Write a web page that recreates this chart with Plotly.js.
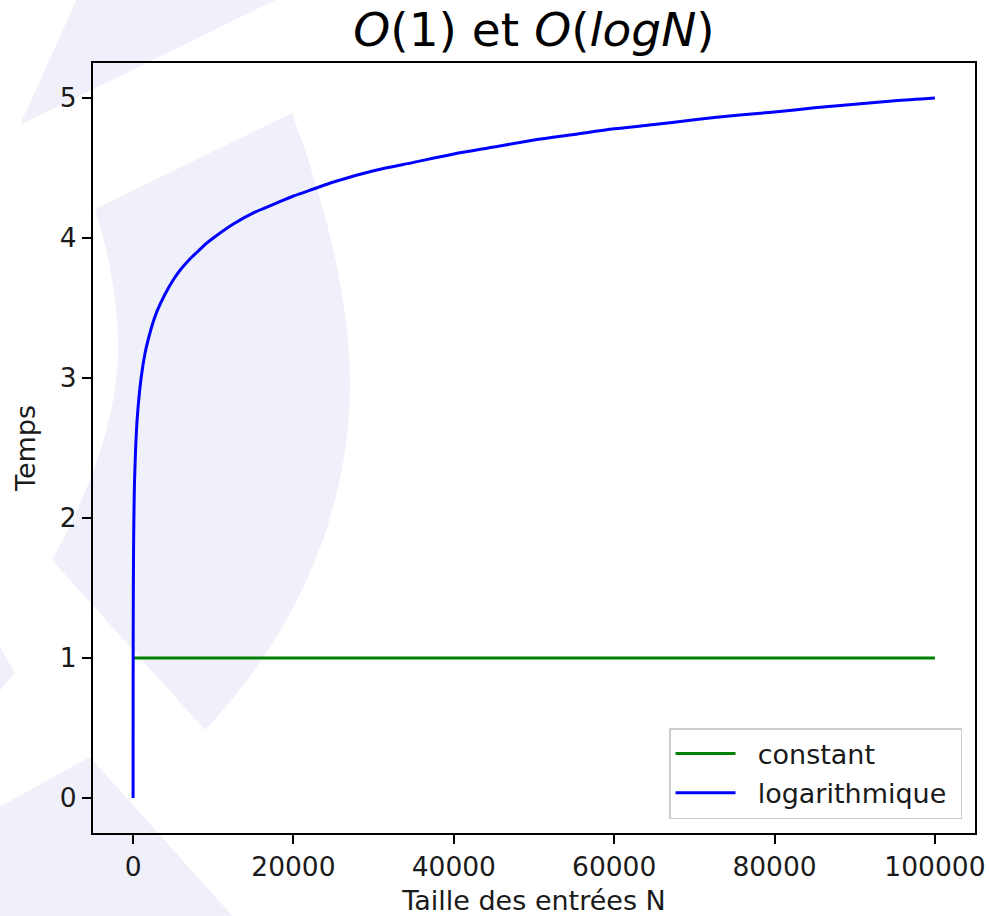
<!DOCTYPE html>
<html>
<head>
<meta charset="utf-8">
<script src="https://cdn.plot.ly/plotly-3.0.1.min.js"></script>
<style>
  html, body { margin: 0; padding: 0; background: #ffffff; }
  #chart { width: 989px; height: 916px; }
</style>
</head>
<body>
<div id="chart"></div>
<script>
// ---- data ----
const constN = [1, 100000];
const constT = [1, 1];

const logN = [1, 2, 5, 10, 20, 50, 100, 200, 500, 1000, 1500, 2000, 2500, 3000, 4000, 5000,
              6000, 7000, 8000, 9000, 10000, 12500, 15000, 17500, 20000, 22500, 25000, 30000,
              35000, 40000, 45000, 50000, 55000, 60000, 65000, 70000, 75000, 80000, 85000,
              90000, 95000, 100000];
const logT = [0.00, 0.30, 0.70, 1.00, 1.30, 1.70, 2.00, 2.30, 2.70, 3.00, 3.18, 3.30, 3.40, 3.48, 3.60, 3.70,
              3.78, 3.845, 3.90, 3.955, 4.00, 4.10, 4.18, 4.24, 4.30, 4.35, 4.40, 4.48,
              4.54, 4.60, 4.65, 4.70, 4.74, 4.78, 4.81, 4.845, 4.875, 4.90, 4.93,
              4.955, 4.98, 5.00];

const xTickVals = [0, 20000, 40000, 60000, 80000, 100000];
const xTickText = ['0', '20000', '40000', '60000', '80000', '100000'];
const yTickVals = [0, 1, 2, 3, 4, 5];
const yTickText = ['0', '1', '2', '3', '4', '5'];

const seriesNames = ['constant', 'logarithmique'];

// ---- layout geometry ----
const W = 989, H = 916;
const M = {l: 93, r: 14, t: 63, b: 83};
const PW = W - M.l - M.r, PH = H - M.t - M.b;
const FONT = 'DejaVu Sans, Verdana, sans-serif';
const LAV = '#f0f0fa';
const TXT = '#1a1a1a';

// watermark outline (pixel coords) converted to paper coords
function px(x, y) {
  return ((x - M.l) / PW).toFixed(5) + ',' + ((H - M.b - y) / PH).toFixed(5);
}
function wm(cmds) {
  return cmds.map(c => c[0] + ' ' + c.slice(1).map(p => px(p[0], p[1])).join(' ')).join(' ') + ' Z';
}
const wmPaths = [
  wm([['M', [20, 125]], ['L', [80, -8]], ['L', [292, -8]]]),
  wm([['M', [95, 209]], ['L', [292, 113]],
      ['C', [320, 190], [350, 290], [350, 383]],
      ['C', [350, 520], [290, 640], [205, 730]],
      ['L', [52, 560]],
      ['C', [85, 500], [120, 420], [118, 340]],
      ['C', [117, 290], [105, 240], [95, 209]]]),
  wm([['M', [-10, 630]], ['L', [15, 673]], ['L', [-10, 702]]]),
  wm([['M', [-10, 812]], ['L', [90, 757]], ['L', [245, 930]], ['L', [-10, 930]]])
];
const shapes = wmPaths.map(p => ({
  type: 'path', xref: 'paper', yref: 'paper', path: p,
  fillcolor: LAV, line: {width: 0}, layer: 'below'
}));

const LEGPAD = '&nbsp;&nbsp;';
const LEGEND_TAIL = '&nbsp;';
const traces = [
  {x: constN, y: constT, name: LEGPAD + seriesNames[0] + LEGEND_TAIL, legendgroup: 'g1', type: 'scatter', mode: 'lines',
   line: {color: '#008000', width: 3}},
  {x: logN, y: logT, name: LEGPAD + seriesNames[1] + LEGEND_TAIL, legendgroup: 'g2', type: 'scatter', mode: 'lines',
   line: {color: '#0000ff', width: 3, shape: 'spline', smoothing: 0.8}}
];

const axisCommon = {
  showline: true, mirror: true, linecolor: '#000000', linewidth: 2,
  ticks: 'outside', ticklen: 9, tickwidth: 2, tickcolor: '#000000',
  showgrid: false, zeroline: false,
  tickfont: {family: FONT, size: 26.5, color: TXT}
};

const layout = {
  width: W, height: H,
  margin: M,
  paper_bgcolor: 'rgba(0,0,0,0)',
  plot_bgcolor: 'rgba(0,0,0,0)',
  font: {family: FONT, size: 26, color: TXT},
  title: {
    text: '<i>O</i>(1) et <i>O</i>(<i>logN</i>)',
    font: {family: FONT, size: 47, color: '#000000'},
    x: 0.5, xref: 'paper', xanchor: 'center',
    y: 1 - 30 / H, yref: 'container', yanchor: 'middle'
  },
  xaxis: Object.assign({}, axisCommon, {
    range: [-5000, 105000],
    tickmode: 'array', tickvals: xTickVals, ticktext: xTickText,
    title: {text: 'Taille des entrées N', font: {family: FONT, size: 27, color: TXT}, standoff: 11}
  }),
  yaxis: Object.assign({}, axisCommon, {
    range: [-0.25, 5.25],
    tickmode: 'array', tickvals: yTickVals, ticktext: yTickText,
    title: {text: 'Temps', font: {family: FONT, size: 27, color: TXT}, standoff: 16}
  }),
  legend: {
    x: (962 - M.l) / PW, y: (H - M.b - 819) / PH, xanchor: 'right', yanchor: 'bottom',
    bgcolor: 'rgba(255,255,255,0.85)', bordercolor: '#cccccc', borderwidth: 1.5,
    font: {family: FONT, size: 27, color: TXT},
    itemwidth: 60, traceorder: 'grouped', tracegroupgap: 1
  },
  showlegend: true,
  shapes: shapes,
  annotations: [{
    text: 'Temps', textangle: -90, showarrow: false,
    xref: 'paper', yref: 'paper',
    x: (983 - M.l) / PW, y: (H - M.b - 450) / PH,
    xanchor: 'left', yanchor: 'middle',
    font: {family: FONT, size: 27, color: TXT}
  }]
};

Plotly.newPlot('chart', traces, layout, {staticPlot: true, displayModeBar: false});
</script>
</body>
</html>
